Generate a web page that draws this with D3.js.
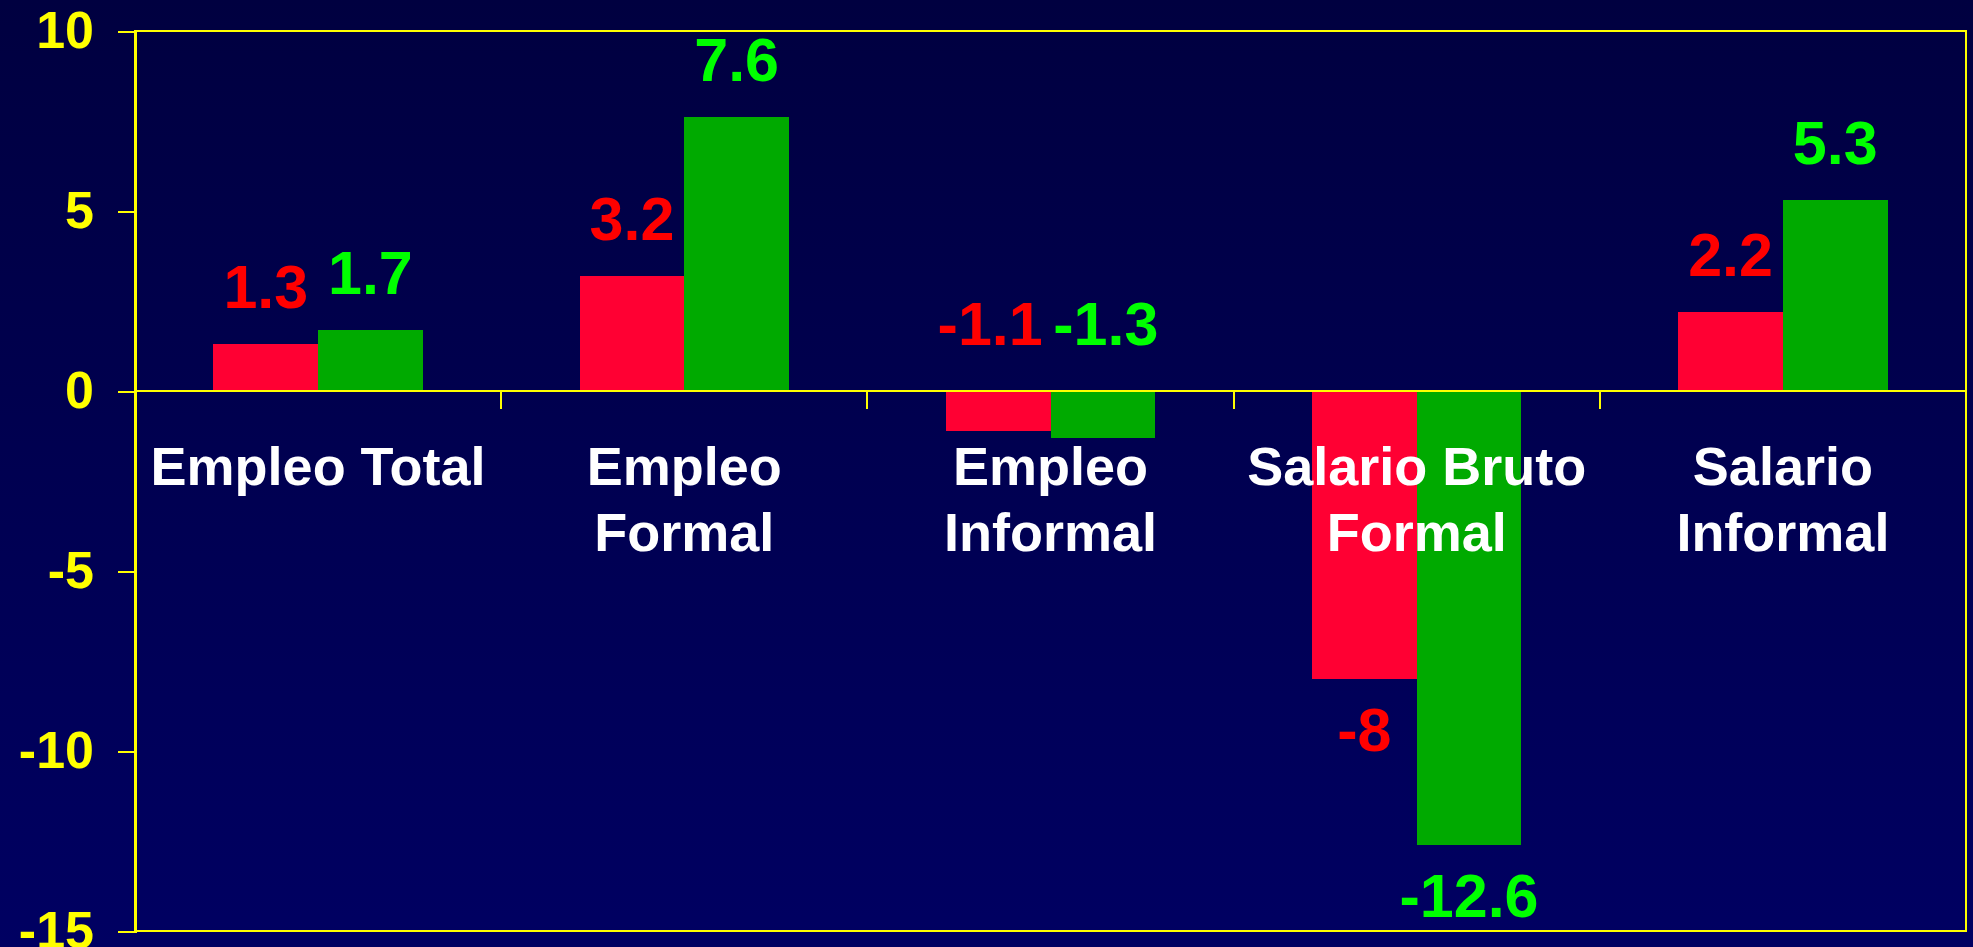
<!DOCTYPE html>
<html>
<head>
<meta charset="utf-8">
<script src="https://cdn.jsdelivr.net/npm/d3@7"></script>
<style>
  html, body { margin: 0; padding: 0; background: #000050; }
  svg { display: block; }
  text { font-family: "Liberation Sans", Arial, sans-serif; font-weight: bold; }
</style>
</head>
<body>
<div id="chart"></div>
<script>
/* Empleo y salarios: variación (%) */

const categories = ["Empleo Total", "Empleo\nFormal", "Empleo\nInformal", "Salario Bruto\nFormal", "Salario\nInformal"];
const seriesRed = [1.3, 3.2, -1.1, -8, 2.2];
const seriesGreen = [1.7, 7.6, -1.3, -12.6, 5.3];
const yTicks = [-15, -10, -5, 0, 5, 10];

const width = 1973, height = 947;
const margin = { top: 31, right: 7, bottom: 16, left: 135 };

const svg = d3.select("#chart")
  .append("svg")
  .attr("width", width)
  .attr("height", height);

// background gradient
const defs = svg.append("defs");
const bg = defs.append("linearGradient").attr("id", "bg").attr("x1", 0).attr("y1", 0).attr("x2", 0).attr("y2", 1);
bg.append("stop").attr("offset", "0%").attr("stop-color", "#000040");
bg.append("stop").attr("offset", "100%").attr("stop-color", "#000062");
svg.append("rect").attr("width", width).attr("height", height).attr("fill", "url(#bg)");

const x0 = d3.scaleBand()
  .domain(d3.range(categories.length))
  .range([margin.left, width - margin.right])
  .paddingInner(0.75 / 1.75)
  .paddingOuter(0.75 / 1.75 / 2);

const x1 = d3.scaleBand()
  .domain(["red", "green"])
  .range([0, x0.bandwidth()]);

const y = d3.scaleLinear()
  .domain([-15, 10])
  .range([height - margin.bottom, margin.top]);

const series = [
  { key: "red", values: seriesRed, fill: "#ff0033", label: "#ff0000" },
  { key: "green", values: seriesGreen, fill: "#00aa00", label: "#00ff00" }
];

// Bars
series.forEach(s => {
  svg.selectAll(".bar-" + s.key)
    .data(s.values)
    .join("rect")
    .attr("class", "bar-" + s.key)
    .attr("x", (d, i) => x0(i) + x1(s.key))
    .attr("y", d => y(Math.max(0, d)))
    .attr("width", x1.bandwidth())
    .attr("height", d => Math.abs(y(d) - y(0)))
    .attr("fill", s.fill)
    .attr("shape-rendering", "crispEdges");
});

// Plot frame
const axisColor = "#ffff00";
svg.append("rect")
  .attr("x", margin.left)
  .attr("y", y(10))
  .attr("width", width - margin.right - margin.left)
  .attr("height", y(-15) - y(10))
  .attr("fill", "none")
  .attr("stroke", axisColor)
  .attr("stroke-width", 2)
  .attr("shape-rendering", "crispEdges");

// Y axis
const yAxis = d3.axisLeft(y).tickValues(yTicks).tickSize(17).tickPadding(24).tickFormat(d3.format("d"));
const gy = svg.append("g").attr("transform", `translate(${margin.left},0)`).call(yAxis);
gy.select(".domain").attr("stroke", axisColor).attr("stroke-width", 2).attr("shape-rendering", "crispEdges");
gy.selectAll(".tick line").attr("stroke", axisColor).attr("stroke-width", 2).attr("shape-rendering", "crispEdges");
gy.selectAll(".tick text")
  .attr("fill", axisColor)
  .attr("font-size", 52)
  .attr("font-family", "'Liberation Sans', Arial, sans-serif")
  .attr("font-weight", "bold")
  .text(d => d < 0 ? "-" + Math.abs(d) : d);

// Zero line with category dividers
svg.append("line")
  .attr("x1", margin.left).attr("x2", width - margin.right)
  .attr("y1", y(0)).attr("y2", y(0))
  .attr("stroke", axisColor).attr("stroke-width", 2)
  .attr("shape-rendering", "crispEdges");

const dividers = d3.range(1, categories.length).map(i => x0(i) - x0.step() * x0.paddingInner() / 2);
svg.selectAll(".divider")
  .data(dividers)
  .join("line")
  .attr("class", "divider")
  .attr("x1", d => d).attr("x2", d => d)
  .attr("y1", y(0)).attr("y2", y(0) + 18)
  .attr("stroke", axisColor).attr("stroke-width", 2)
  .attr("shape-rendering", "crispEdges");

// Category labels
const catG = svg.selectAll(".cat")
  .data(categories)
  .join("text")
  .attr("class", "cat")
  .attr("x", (d, i) => x0(i) + x0.bandwidth() / 2)
  .attr("y", y(0) + 94)
  .attr("text-anchor", "middle")
  .attr("font-size", 54)
  .attr("fill", "#ffffff");
catG.selectAll("tspan")
  .data(d => d.split("\n"))
  .join("tspan")
  .attr("x", function () { return this.parentNode.getAttribute("x"); })
  .attr("dy", (d, i) => i === 0 ? 0 : 66)
  .text(d => d);

// Value labels
const fmt = v => (v < 0 ? "-" : "") + String(Math.abs(v));
series.forEach(s => {
  svg.selectAll(".val-" + s.key)
    .data(s.values)
    .join("text")
    .attr("class", "val-" + s.key)
    .attr("x", (d, i) => x0(i) + x1(s.key) + x1.bandwidth() / 2 + (d < 0 && d > -3 ? (s.key === "red" ? -8 : 3) : 0))
    .attr("y", d => {
      if (d >= 0) return y(d) - 36;
      // short negative bars: label kept above the zero line, clear of category text
      if (d > -3) return y(0) - 46;
      return y(d) + 72;
    })
    .attr("text-anchor", "middle")
    .attr("font-size", 61)
    .attr("fill", s.label)
    .text(fmt);
});
</script>
</body>
</html>
